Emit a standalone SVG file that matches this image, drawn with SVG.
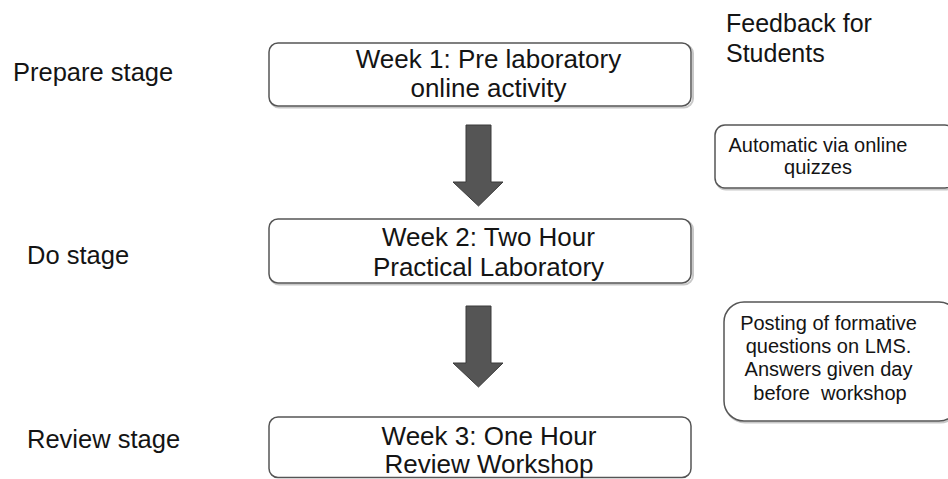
<svg xmlns="http://www.w3.org/2000/svg" width="948" height="479" viewBox="0 0 948 479">
<style>
text{font-family:"Liberation Sans",Arial,sans-serif;fill:#141414}
.lbl{font-size:25.5px}
.main{font-size:26px;text-anchor:middle}
.fb{font-size:20px;text-anchor:middle}
.box{fill:#fff;stroke:#555;stroke-width:1.5}
.shadow{fill:none;stroke:#c8c8c8;stroke-width:2}
.arrow{fill:#555;stroke:#3a3a3a;stroke-width:1}
</style>
<rect width="948" height="479" fill="#fff"/>
<g id="labels">
<text class="lbl" x="13" y="81">Prepare stage</text>
<text class="lbl" x="27" y="264">Do stage</text>
<text class="lbl" x="27" y="448">Review stage</text>
<text x="726" y="32" style="font-size:25px">Feedback for</text>
<text x="726" y="62" style="font-size:25px">Students</text>
</g>
<g id="week1">
<rect class="shadow" x="270" y="44.5" width="423" height="63" rx="9"/>
<rect class="box" x="269" y="43" width="422" height="63" rx="9"/>
<text class="main" x="488.5" y="68">Week 1: Pre laboratory</text>
<text class="main" x="488.5" y="97">online activity</text>
</g>
<g id="week2">
<rect class="shadow" x="270" y="220.5" width="423" height="64" rx="9"/>
<rect class="box" x="269" y="219" width="422" height="64" rx="9"/>
<text class="main" x="488.5" y="246">Week 2: Two Hour</text>
<text class="main" x="488.5" y="276">Practical Laboratory</text>
</g>
<g id="week3">
<rect class="box" x="269" y="417" width="422" height="60.5" rx="9"/>
<text class="main" x="489" y="445">Week 3: One Hour</text>
<text class="main" x="489" y="473">Review Workshop</text>
</g>
<g id="auto">
<rect class="shadow" x="716" y="126.5" width="240" height="63" rx="10"/>
<rect class="box" x="715" y="125" width="240" height="63" rx="10"/>
<text class="fb" x="818" y="152">Automatic via online</text>
<text class="fb" x="818" y="174">quizzes</text>
</g>
<g id="posting">
<rect class="shadow" x="725" y="303.5" width="235" height="119" rx="20"/>
<rect class="box" x="724" y="302" width="235" height="119" rx="20"/>
<text class="fb" x="828.5" y="330">Posting of formative</text>
<text class="fb" x="828.5" y="353">questions on LMS.</text>
<text class="fb" x="828.5" y="376">Answers given day</text>
<text class="fb" x="830" y="400" style="white-space:pre">before  workshop</text>
</g>
<g id="connectors">
<polygon class="arrow" points="466,125 491,125 491,182 503,182 478.5,206 453,182 466,182"/>
<polygon class="arrow" points="466,306 491,306 491,363 503,363 478.5,387 453,363 466,363"/>
</g>
</svg>
